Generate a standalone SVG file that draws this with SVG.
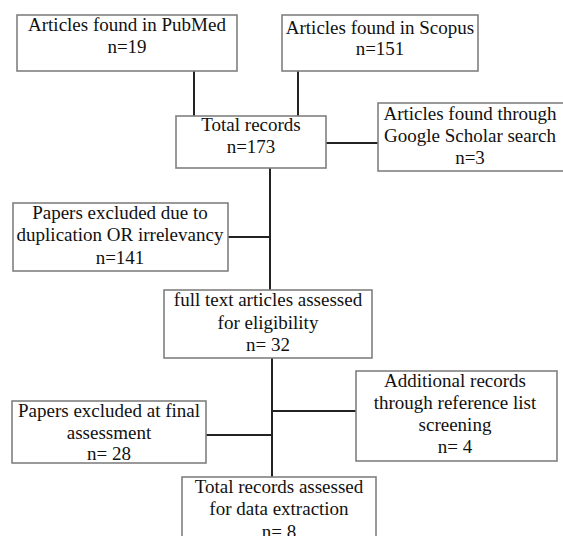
<svg xmlns="http://www.w3.org/2000/svg" width="563" height="536" viewBox="0 0 563 536">
<style>
.box{fill:#fff;stroke:#808080;stroke-width:1.6}
.t{font-family:"Liberation Serif","Times New Roman",serif;font-size:19px;fill:#111;text-anchor:middle}
.c{stroke:#222;stroke-width:2;fill:none}
</style>
<rect width="563" height="536" fill="#fff"/>
<g id="connectors">
<line class="c" x1="194" y1="71" x2="194" y2="116"/>
<line class="c" x1="298" y1="71" x2="298" y2="116"/>
<line class="c" x1="326" y1="143" x2="378" y2="143"/>
<line class="c" x1="270" y1="168" x2="270" y2="290"/>
<line class="c" x1="228" y1="237" x2="270" y2="237"/>
<line class="c" x1="272" y1="358" x2="272" y2="477"/>
<line class="c" x1="272" y1="411" x2="356" y2="411"/>
<line class="c" x1="206" y1="435" x2="272" y2="435"/>
</g>
<g id="pubmed">
<rect class="box" x="17" y="15" width="220" height="56"/>
<text class="t" x="127" y="31">Articles found in PubMed</text>
<text class="t" x="127" y="53">n=19</text>
</g>
<g id="scopus">
<rect class="box" x="282" y="15" width="196" height="56"/>
<text class="t" x="380" y="34">Articles found in Scopus</text>
<text class="t" x="380" y="55">n=151</text>
</g>
<g id="total">
<rect class="box" x="176" y="116" width="150" height="52"/>
<text class="t" x="251" y="131">Total records</text>
<text class="t" x="251" y="153">n=173</text>
</g>
<g id="google">
<rect class="box" x="378" y="103" width="190" height="68"/>
<text class="t" x="470" y="120">Articles found through</text>
<text class="t" x="470" y="142">Google Scholar search</text>
<text class="t" x="470" y="164">n=3</text>
</g>
<g id="excluded1">
<rect class="box" x="13" y="203" width="215" height="68"/>
<text class="t" x="120" y="219">Papers excluded due to</text>
<text class="t" x="120" y="241">duplication OR irrelevancy</text>
<text class="t" x="120" y="264">n=141</text>
</g>
<g id="fulltext">
<rect class="box" x="164" y="290" width="208" height="68"/>
<text class="t" x="268" y="306">full text articles assessed</text>
<text class="t" x="268" y="329">for eligibility</text>
<text class="t" x="268" y="351">n= 32</text>
</g>
<g id="additional">
<rect class="box" x="356" y="371" width="201" height="90"/>
<text class="t" x="455" y="387">Additional records</text>
<text class="t" x="455" y="409">through reference list</text>
<text class="t" x="455" y="431">screening</text>
<text class="t" x="455" y="453">n= 4</text>
</g>
<g id="excluded2">
<rect class="box" x="12" y="401" width="194" height="62"/>
<text class="t" x="109" y="417">Papers excluded at final</text>
<text class="t" x="109" y="439">assessment</text>
<text class="t" x="109" y="460">n= 28</text>
</g>
<g id="final">
<rect class="box" x="182" y="477" width="194" height="70"/>
<text class="t" x="279" y="493">Total records assessed</text>
<text class="t" x="279" y="515">for data extraction</text>
<text class="t" x="279" y="538">n= 8</text>
</g>
</svg>
